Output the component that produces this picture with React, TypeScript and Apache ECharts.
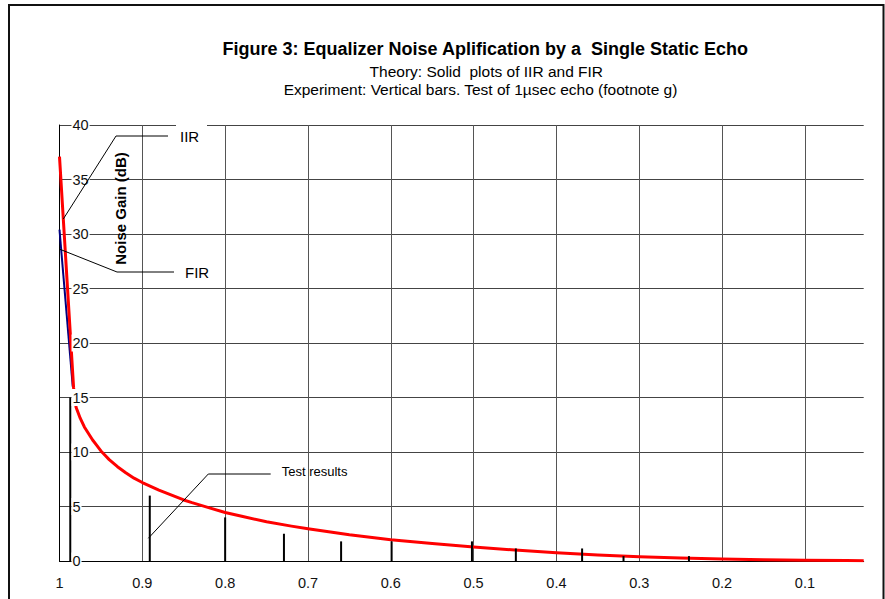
import React, { useEffect, useRef } from "react";
import * as echarts from "echarts";

// Echo amplitude (x axis, plotted from 1 down to ~0.03)
const iirX = [1.0, 0.983, 0.98, 0.975, 0.97, 0.965, 0.96, 0.955, 0.95, 0.945, 0.94, 0.93, 0.92, 0.91, 0.9, 0.89, 0.88, 0.87, 0.86, 0.85, 0.84, 0.82, 0.8, 0.78, 0.75, 0.72, 0.7, 0.65, 0.6, 0.55, 0.5, 0.45, 0.4, 0.35, 0.3, 0.25, 0.2, 0.15, 0.1, 0.05, 0.029];
const iirDb = [37.1, 15.9, 14.1, 13.1, 12.3, 11.7, 11.1, 10.6, 10.1, 9.7, 9.3, 8.65, 8.1, 7.6, 7.2, 6.85, 6.5, 6.2, 5.9, 5.6, 5.35, 4.9, 4.45, 4.1, 3.6, 3.2, 2.95, 2.4, 1.95, 1.6, 1.28, 1.0, 0.76, 0.56, 0.4, 0.28, 0.18, 0.12, 0.08, 0.04, 0.02];

const firX = [1.0, 0.984];
const firDb = [30.4, 16.0];

const testX = [0.987, 0.891, 0.8, 0.729, 0.66, 0.599, 0.502, 0.449, 0.369, 0.319, 0.24];
const testDb = [15.0, 6.0, 4.0, 2.5, 1.8, 1.8, 1.8, 1.15, 1.15, 0.45, 0.45];

const yTicks = [0, 5, 10, 15, 20, 25, 30, 35, 40];
const xTickLabels = ["1", "0.9", "0.8", "0.7", "0.6", "0.5", "0.4", "0.3", "0.2", "0.1"];

const TITLE = "Figure 3: Equalizer Noise Aplification by a  Single Static Echo";
const SUB1 = "Theory: Solid  plots of IIR and FIR";
const SUB2 = "Experiment: Vertical bars. Test of 1\u00b5sec echo (footnote g)";

const FONT = "'Liberation Sans', Arial, Helvetica, sans-serif";

// distance from 1 (axis runs from 1 on the left to ~0.03 on the right)
const toAxis = (x: number) => 1 - x;

export default function App() {
  const ref = useRef<HTMLDivElement>(null);

  useEffect(() => {
    if (!ref.current) return;
    const chart = echarts.init(ref.current, null, { renderer: "svg" });

    const iirData = iirX.map((x, i) => [toAxis(x), iirDb[i]]);
    const firData = firX.map((x, i) => [toAxis(x), firDb[i]]);
    const testData = testX.map((x, i) => [toAxis(x), testDb[i]]);

    const xLabel = (v: number) => {
      const idx = Math.round(v * 10);
      if (Math.abs(v * 10 - idx) > 1e-6) return "";
      return xTickLabels[idx] ?? "";
    };

    const option: any = {
      animation: false,
      backgroundColor: "#ffffff",
      grid: { left: 59.5, right: 21.3, top: 125, bottom: 38, containLabel: false },
      xAxis: {
        type: "value",
        min: 0,
        max: 0.971,
        interval: 0.1,
        axisLine: { show: true, lineStyle: { color: "#000", width: 1 } },
        axisTick: { show: false },
        axisLabel: {
          show: true,
          margin: 14,
          fontSize: 14.5,
          color: "#111",
          fontFamily: FONT,
          showMaxLabel: false,
          formatter: xLabel,
        },
        splitLine: { show: true, showMaxLine: false, lineStyle: { color: "#555", width: 1 } },
      },
      yAxis: [
        {
          type: "value",
          min: yTicks[0],
          max: yTicks[yTicks.length - 1],
          interval: 5,
          axisLine: { show: true, lineStyle: { color: "#000", width: 1 } },
          axisTick: { show: false },
          axisLabel: { show: false },
          splitLine: { show: true, lineStyle: { color: "#444", width: 1 } },
        },
        {
          type: "value",
          position: "left",
          min: yTicks[0],
          max: yTicks[yTicks.length - 1],
          interval: 5,
          z: 10,
          axisLine: { show: false },
          axisTick: { show: false },
          splitLine: { show: false },
          axisLabel: {
            inside: true,
            margin: 12,
            fontSize: 14.5,
            color: "#111",
            fontFamily: FONT,
            backgroundColor: "#ffffff",
            padding: [1, 1, 1, 1],
          },
        },
      ],
      series: [
        {
          name: "FIR",
          type: "line",
          data: firData,
          showSymbol: false,
          lineStyle: { color: "#000080", width: 2 },
          z: 2,
        },
        {
          name: "IIR",
          type: "line",
          data: iirData,
          showSymbol: false,
          lineStyle: { color: "#ff0000", width: 3, join: "round" },
          z: 3,
        },
        {
          name: "Test results",
          type: "custom",
          data: testData,
          encode: { x: 0, y: 1 },
          z: 4,
          renderItem: (_params: any, api: any) => {
            const p0 = api.coord([api.value(0), 0]);
            const p1 = api.coord([api.value(0), api.value(1)]);
            return {
              type: "line",
              shape: { x1: p0[0], y1: p0[1], x2: p1[0], y2: p1[1] },
              style: { stroke: "#000", lineWidth: 2 },
            };
          },
        },
      ],
      graphic: [
        {
          type: "rect",
          z: 100,
          shape: { x: 9, y: 5, width: 874.5, height: 620 },
          style: { fill: "none", stroke: "#111", lineWidth: 2 },
        },
        {
          type: "text",
          z: 100,
          x: 485.3,
          y: 48.5,
          style: { text: TITLE, fill: "#000", font: `bold 18px ${FONT}`, textAlign: "center", textVerticalAlign: "middle" },
        },
        {
          type: "text",
          z: 100,
          x: 486.3,
          y: 71.3,
          style: { text: SUB1, fill: "#000", font: `15.5px ${FONT}`, textAlign: "center", textVerticalAlign: "middle" },
        },
        {
          type: "text",
          z: 100,
          x: 480.5,
          y: 89.7,
          style: { text: SUB2, fill: "#000", font: `15.5px ${FONT}`, textAlign: "center", textVerticalAlign: "middle" },
        },
        // IIR annotation
        {
          type: "rect",
          z: 100,
          shape: { x: 176, y: 123, width: 31, height: 24 },
          style: { fill: "#fff", stroke: "none" },
        },
        {
          type: "polyline",
          z: 101,
          shape: { points: [[168, 136], [116, 136], [63.3, 219]] },
          style: { stroke: "#000", lineWidth: 1, fill: "none" },
        },
        {
          type: "text",
          z: 101,
          x: 180,
          y: 136,
          style: { text: "IIR", fill: "#000", font: `15px ${FONT}`, textAlign: "left", textVerticalAlign: "middle" },
        },
        // FIR annotation
        {
          type: "polyline",
          z: 101,
          shape: { points: [[174, 272], [117, 272], [60, 249.3]] },
          style: { stroke: "#000", lineWidth: 1, fill: "none" },
        },
        {
          type: "text",
          z: 101,
          x: 185,
          y: 272,
          style: { text: "FIR", fill: "#000", font: `15px ${FONT}`, textAlign: "left", textVerticalAlign: "middle" },
        },
        // Y axis title
        {
          type: "text",
          z: 101,
          x: 120,
          y: 208.5,
          rotation: Math.PI / 2,
          style: { text: "Noise Gain (dB)", fill: "#000", font: `bold 15px ${FONT}`, textAlign: "center", textVerticalAlign: "middle" },
        },
        // Test results annotation
        {
          type: "polyline",
          z: 101,
          shape: { points: [[270.7, 474], [208.3, 474], [148.3, 538.3]] },
          style: { stroke: "#000", lineWidth: 1, fill: "none" },
        },
        {
          type: "text",
          z: 101,
          x: 281.7,
          y: 471,
          style: { text: "Test results", fill: "#000", font: `13px ${FONT}`, textAlign: "left", textVerticalAlign: "middle" },
        },
      ],
    };

    chart.setOption(option);
    return () => chart.dispose();
  }, []);

  return (
    <div
      ref={ref}
      style={{ position: "absolute", left: 0, top: 0, width: 885, height: 599 }}
    />
  );
}
